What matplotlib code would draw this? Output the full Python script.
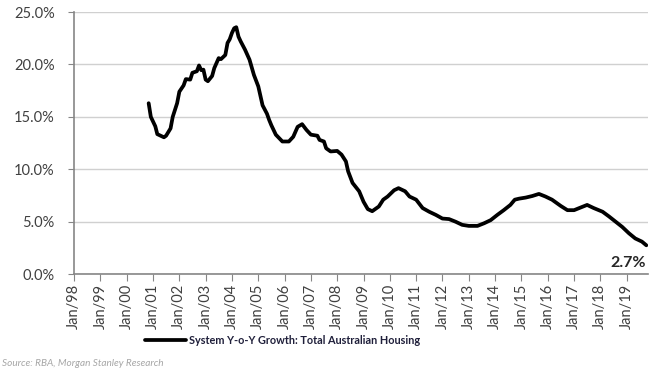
import matplotlib
matplotlib.use("Agg")
import matplotlib.pyplot as plt
import matplotlib.dates as mdates
import pandas as pd

plt.rcParams["font.family"] = ["Lato", "DejaVu Sans"]

dates = ["2000-11", "2000-12", "2001-02", "2001-03", "2001-06", "2001-07", "2001-09", "2001-10",
         "2001-12", "2002-01", "2002-03", "2002-04", "2002-06", "2002-07", "2002-09", "2002-10",
         "2002-11", "2002-12", "2003-01", "2003-02", "2003-04", "2003-05", "2003-07", "2003-08",
         "2003-10", "2003-11", "2003-12", "2004-01", "2004-02", "2004-03", "2004-04", "2004-05",
         "2004-07", "2004-09", "2004-11", "2005-01", "2005-03", "2005-05", "2005-06", "2005-07",
         "2005-09", "2005-12", "2006-03", "2006-05", "2006-07", "2006-09", "2006-11", "2007-01",
         "2007-04", "2007-05", "2007-07", "2007-08", "2007-10", "2008-01", "2008-03", "2008-05",
         "2008-06", "2008-08", "2008-11", "2009-01", "2009-03", "2009-05", "2009-08", "2009-10",
         "2009-12", "2010-03", "2010-05", "2010-08", "2010-10", "2011-01", "2011-04", "2011-07",
         "2011-10", "2012-01", "2012-04", "2012-07", "2012-10", "2013-01", "2013-05", "2013-08",
         "2013-11", "2014-02", "2014-05", "2014-08", "2014-10", "2014-12", "2015-03", "2015-06",
         "2015-09", "2015-12", "2016-03", "2016-07", "2016-10", "2017-01", "2017-04", "2017-07",
         "2017-10", "2018-02", "2018-05", "2018-08", "2018-11", "2019-02", "2019-05", "2019-08",
         "2019-10"]
growth = [16.3, 15.0, 14.1, 13.35, 13.05, 13.2, 13.9, 15.0,
          16.3, 17.4, 18.0, 18.6, 18.55, 19.2, 19.35, 19.9,
          19.45, 19.5, 18.55, 18.4, 18.9, 19.65, 20.6, 20.5,
          20.9, 22.05, 22.4, 23.0, 23.45, 23.55, 22.65, 22.2,
          21.4, 20.45, 19.0, 17.9, 16.1, 15.3, 14.7, 14.2,
          13.3, 12.65, 12.65, 13.1, 14.05, 14.3, 13.75, 13.3,
          13.2, 12.8, 12.65, 12.0, 11.7, 11.75, 11.4, 10.75,
          9.8, 8.7, 7.9, 6.9, 6.2, 6.0, 6.45, 7.1,
          7.4, 8.0, 8.2, 7.9, 7.4, 7.1, 6.3, 5.95,
          5.65, 5.3, 5.25, 5.0, 4.7, 4.6, 4.6, 4.85,
          5.15, 5.65, 6.1, 6.6, 7.1, 7.2, 7.3, 7.45,
          7.65, 7.4, 7.1, 6.5, 6.1, 6.1, 6.35, 6.6,
          6.3, 5.95, 5.5, 5.0, 4.5, 3.9, 3.4, 3.1,
          2.75]
yticks = [0, 5, 10, 15, 20, 25]
series_label = "System Y-o-Y Growth: Total Australian Housing"
source_text = "Source: RBA, Morgan Stanley Research"
end_label = "2.7%"

x = pd.to_datetime(dates, format="%Y-%m")

fig = plt.figure(figsize=(6.5, 3.75), dpi=100)
ax = fig.add_axes([0.114, 0.269, 0.883, 0.699])

ax.plot(x, growth, color="black", lw=2.7, solid_joinstyle="round", solid_capstyle="round",
        label=series_label)

ax.set_ylim(0, 25)
ax.set_yticks(yticks)
ax.set_yticklabels([f"{v:.1f}%" for v in yticks], fontsize=10.5, color="#404040")
ax.yaxis.grid(True, color="#d0d0d0", lw=1)
ax.set_axisbelow(True)

ax.set_xlim(pd.Timestamp("1998-01-01"), pd.Timestamp("2019-10-25"))
ax.xaxis.set_major_locator(mdates.YearLocator(1, month=1, day=1))
ax.xaxis.set_major_formatter(mdates.DateFormatter("%b/%y"))
plt.setp(ax.get_xticklabels(), rotation=90, fontsize=10.5, color="#404040")

for s in ["top", "right"]:
    ax.spines[s].set_visible(False)
for s in ["left", "bottom"]:
    ax.spines[s].set_color("#868686")
    ax.spines[s].set_linewidth(1.2)
ax.tick_params(axis="x", direction="out", length=5, color="#868686", pad=2)
ax.tick_params(axis="y", direction="out", length=4, color="#868686", pad=10)

ax.annotate(end_label, xy=(x[-1], growth[-1]), xytext=(0, -8), textcoords="offset points",
            ha="right", va="top", fontsize=11.5, fontweight="bold", color="#262626")

leg = fig.legend(loc="center", bbox_to_anchor=(0.435, 0.093), frameon=False,
                 prop={"size": 7.8, "weight": "bold"}, handlelength=3.8, handletextpad=0.3)
for t in leg.get_texts():
    t.set_color("#1f1f3a")

fig.text(0.003, 0.018, source_text, fontsize=7.2, style="italic", color="#a6a6a6",
         ha="left", va="bottom")

fig.savefig("out.png", dpi=100)
